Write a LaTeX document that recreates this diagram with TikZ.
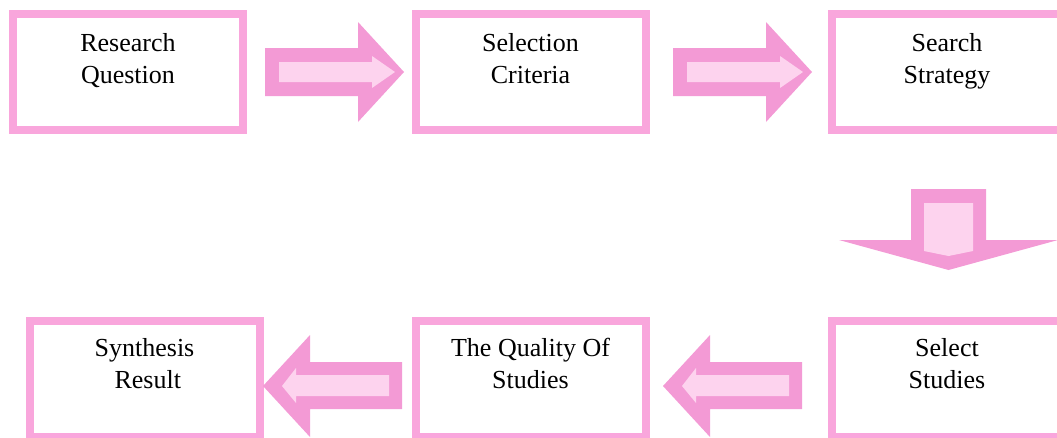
\documentclass[tikz,border=0pt]{standalone}
\usepackage{fontspec}
\setmainfont{Liberation Serif}
\definecolor{boxpink}{HTML}{F9A6DC}
\definecolor{arrowpink}{HTML}{F39AD5}
\definecolor{innerpink}{HTML}{FDD3EE}
\tikzset{
  stepbox/.style={draw=boxpink, line width=8pt, minimum width=230pt, minimum height=116pt, inner sep=0pt, fill=white},
  lbl/.style={anchor=north, align=center, inner sep=0pt, font=\fontsize{26}{32}\selectfont},
  arrowouter/.style={fill=arrowpink},
  arrowinner/.style={fill=innerpink},
}
\begin{document}
\begin{tikzpicture}[x=1pt,y=-1pt]
\useasboundingbox (0,0) rectangle (1057,437);
% boxes
\node[stepbox] (b1) at (128,72) {};
\node[stepbox] (b2) at (530.5,72) {};
\node[stepbox] (b3) at (947,72) {};
\node[stepbox] (b4) at (144.5,379) {};
\node[stepbox] (b5) at (530.5,379) {};
\node[stepbox] (b6) at (947,379) {};
% labels
\node[lbl] (t1) at (b1.center |- 0,28.4) {\strut Research\\\strut Question};
\node[lbl] (t2) at (b2.center |- 0,28.4) {\strut Selection\\\strut Criteria};
\node[lbl] (t3) at (b3.center |- 0,28.4) {\strut Search\\\strut Strategy};
\node[lbl] (t4) at (b4.center |- 0,333.6) {\strut Synthesis\\\strut\ Result};
\node[lbl] (t5) at (b5.center |- 0,333.6) {\strut The Quality Of\\\strut Studies};
\node[lbl] (t6) at (b6.center |- 0,333.6) {\strut Select\\\strut Studies};
% right arrows (b1 -> b2, b2 -> b3)
\foreach \dx in {0,408}{
  \begin{scope}[xshift=\dx pt]
    \fill[arrowouter] (265,48) -- (358,48) -- (358,22) -- (404,72) -- (358,122) -- (358,96) -- (265,96) -- cycle;
    \fill[arrowinner] (279,62) -- (372,62) -- (372,56) -- (395,72) -- (372,88) -- (372,82) -- (279,82) -- cycle;
  \end{scope}
}
% down arrow (b3 -> b6)
\fill[arrowouter] (911,189) -- (986,189) -- (986,240) -- (1058,240) -- (948.5,270) -- (839,240) -- (911,240) -- cycle;
\fill[arrowinner] (924,203) -- (973,203) -- (973,251) -- (948.5,256) -- (924,251) -- cycle;
% left arrows (b6 -> b5, b5 -> b4)
\foreach \dx in {0,400}{
  \begin{scope}[xshift=\dx pt]
    \fill[arrowouter] (263,386) -- (310,335) -- (310,362) -- (402,362) -- (402,409) -- (310,409) -- (310,437) -- cycle;
    \fill[arrowinner] (282,386) -- (296,368) -- (296,375) -- (389,375) -- (389,396) -- (296,396) -- (296,403) -- cycle;
  \end{scope}
}
\end{tikzpicture}
\end{document}
